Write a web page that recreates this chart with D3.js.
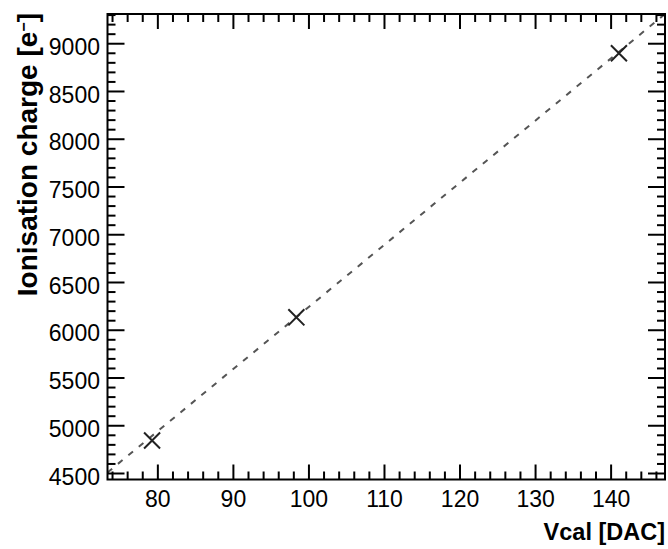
<!DOCTYPE html>
<html>
<head>
<meta charset="utf-8">
<script src="https://cdn.jsdelivr.net/npm/d3@7"></script>
<style>
  body { margin: 0; background: #fff; }
  svg { display: block; }
  .tick text { font-family: "Liberation Sans", Arial, sans-serif; font-size: 23px; fill: #000; }
  .title { font-family: "Liberation Sans", Arial, sans-serif; font-weight: bold; fill: #000; }
</style>
</head>
<body>
<svg id="chart" width="668" height="549"></svg>
<script>
// measured points
const vcal = [79.3, 98.4, 141.1];
const charge = [4840, 6130, 8895];

// linear fit drawn as dashed line
const fitSlope = 65.2;
const fitOffset = -280;

const xTicks = [80, 90, 100, 110, 120, 130, 140];
const yTicks = [4500, 5000, 5500, 6000, 6500, 7000, 7500, 8000, 8500, 9000];

const frame = {left: 107.5, right: 665, top: 14, bottom: 479.5};
const majorLen = 15, minorLen = 8;

const svg = d3.select("#chart");

const xScale = d3.scaleLinear().domain([73.4, 147.2]).range([frame.left, frame.right]);
const yScale = d3.scaleLinear().domain([4432, 9306]).range([frame.bottom, frame.top]);

// minor ticks every 2 DAC / 100 e
const xMinor = d3.range(74, 147.2, 2).filter(v => v % 10 !== 0);
const yMinor = d3.range(4500, 9306, 100).filter(v => v % 500 !== 0);

// fit line
svg.append("path")
    .datum(xScale.domain())
    .attr("d", d3.line().x(d => xScale(d)).y(d => yScale(Math.min(fitSlope * d + fitOffset, yScale.domain()[1]))))
    .attr("fill", "none")
    .attr("stroke", "#555")
    .attr("stroke-width", 2)
    .attr("stroke-dasharray", "6,7.5");

// markers
svg.selectAll(".pt")
    .data(d3.zip(vcal, charge))
    .enter()
    .append("path")
    .attr("class", "pt")
    .attr("transform", d => `translate(${xScale(d[0])},${yScale(d[1])})`)
    .attr("d", d3.symbol(d3.symbolTimes, 169))
    .attr("fill", "none")
    .attr("stroke", "#222")
    .attr("stroke-width", 2);

// axes with inward ticks, drawn on top
function addAxis(axis, tx, ty) {
    const g = svg.append("g")
        .attr("transform", `translate(${tx},${ty})`)
        .call(axis);
    g.select(".domain").remove();
    g.selectAll(".tick line").attr("stroke", "#000").attr("stroke-width", 2);
    return g;
}
const blank = () => "";

addAxis(d3.axisBottom(xScale).tickValues(xTicks).tickSize(-majorLen).tickPadding(11).tickFormat(d3.format("d")), 0, frame.bottom);
addAxis(d3.axisBottom(xScale).tickValues(xMinor).tickSize(-minorLen).tickFormat(blank), 0, frame.bottom);
addAxis(d3.axisTop(xScale).tickValues(xTicks).tickSize(-majorLen).tickFormat(blank), 0, frame.top);
addAxis(d3.axisTop(xScale).tickValues(xMinor).tickSize(-minorLen).tickFormat(blank), 0, frame.top);
addAxis(d3.axisLeft(yScale).tickValues(yTicks).tickSize(-majorLen - 2).tickPadding(7.5).tickFormat(d3.format("d")), frame.left, 0)
    .selectAll("text").attr("dy", "0.48em");
addAxis(d3.axisLeft(yScale).tickValues(yMinor).tickSize(-minorLen).tickFormat(blank), frame.left, 0);
addAxis(d3.axisRight(yScale).tickValues(yTicks).tickSize(-majorLen - 2).tickFormat(blank), frame.right, 0);
addAxis(d3.axisRight(yScale).tickValues(yMinor).tickSize(-minorLen).tickFormat(blank), frame.right, 0);

// frame
svg.append("rect")
    .attr("x", frame.left).attr("y", frame.top)
    .attr("width", frame.right - frame.left).attr("height", frame.bottom - frame.top)
    .attr("fill", "none").attr("stroke", "#000").attr("stroke-width", 2);

// axis titles
svg.append("text")
    .attr("class", "title")
    .attr("x", frame.right).attr("y", 540)
    .attr("text-anchor", "end")
    .style("font-size", "23.5px")
    .text("Vcal [DAC]");

const yTitle = svg.append("text")
    .attr("class", "title")
    .attr("transform", "translate(37,13) rotate(-90)")
    .attr("text-anchor", "end")
    .style("font-size", "28px");
yTitle.append("tspan").text("Ionisation charge [e");
yTitle.append("tspan").attr("baseline-shift", "super").style("font-size", "16px").text("\u2212");
yTitle.append("tspan").text("]");
</script>
</body>
</html>
